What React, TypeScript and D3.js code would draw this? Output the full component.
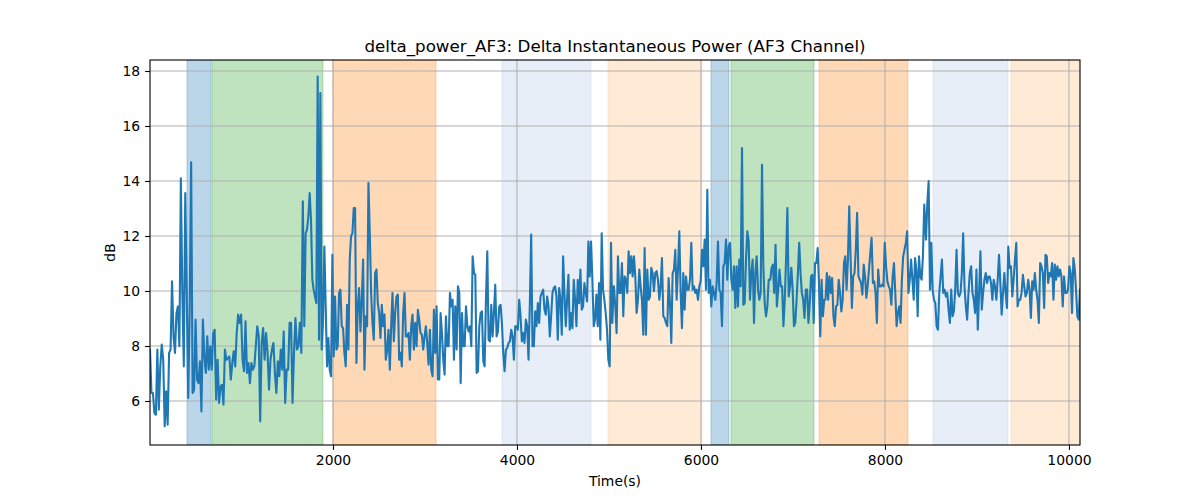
import React, { useRef, useEffect } from "react";
import * as d3 from "d3";

// delta power readings, split into stretches of time (each stretch spread evenly over its time range)
const seg1 = [
  7.87, 6.29, 6.29, 5.56, 5.5, 7.87, 5.68, 7.26, 8.05, 7.5, 5.08, 6.35, 5.14, 7.75, 7.87, 10.35, 8.35, 7.75, 9.2, 9.44,
  7.99, 14.1, 9.93, 7.26, 13.56, 9.93, 6.11, 9.32, 14.68, 6.29, 6.41, 8.96, 6.78, 6.65, 7.44, 5.62, 8.96, 7.62, 7.02, 8.35,
  7.14, 7.99, 7.14, 8.47, 8.59, 6.05, 7.5, 5.93, 6.53, 6.59, 5.87, 7.87, 7.5, 7.56, 7.62, 6.78, 7.38, 7.81, 7.26, 8.47,
  9.14, 8.84, 9.14, 7.5, 7.08, 8.9, 7.02, 7.38, 6.65, 7.38, 7.14, 7.26, 7.99, 8.72, 8.35, 5.26, 8.11, 8.65, 7.5, 8.47,
  7.75, 6.41, 7.5, 7.87, 8.11, 7.02, 6.29, 7.44, 6.9, 7.87, 7.14, 8.53, 5.93, 7.14, 7.14, 8.84, 8.84, 5.93, 7.75, 9.02,
  7.87, 7.99, 8.84, 7.75, 13.26, 8.72,
];
const seg2 = [
  12.1, 12.23, 12.7, 13.56, 12.59, 10.41, 10.05, 9.8, 9.56, 17.8, 8.23, 17.2, 7.87, 8.96, 11.62, 9.44, 7.26, 8.29, 7.14, 6.9,
  11.32, 7.62, 9.8, 7.87, 7.99, 9.93, 10.05, 8.72, 8.65, 7.75, 7.26, 9.5, 7.87, 11.14, 12.0, 12.1, 13.02, 13.02, 7.38, 9.44,
  10.11, 8.53, 9.68, 11.14, 7.14, 9.08, 8.72, 13.93, 12.1, 9.93, 8.84, 8.23, 10.65, 10.78, 9.56, 9.2, 8.29, 9.5, 8.72, 9.14,
  7.5, 7.87, 8.59, 7.14, 8.72, 9.93, 8.17, 9.2, 9.8, 9.87, 7.5, 7.75, 7.26, 9.2, 9.93, 8.35, 8.35, 8.47, 7.5, 8.72,
  9.14, 7.87, 8.84, 7.99, 9.32, 8.96, 8.47, 8.41, 7.87, 8.35, 8.72, 8.11, 7.32, 8.59, 7.14, 6.9, 9.32, 7.75, 9.44, 6.78,
  6.78, 9.2, 8.47, 7.5, 6.96, 9.08, 7.99, 7.99, 9.93, 9.44, 9.68, 7.5, 9.44, 7.87, 10.17, 9.93,
];
const seg3 = [
  6.65, 9.2, 7.99, 7.99, 9.44, 8.72, 8.53, 8.72, 7.99, 11.26, 10.65, 10.59, 7.02, 7.08, 8.72, 9.2, 9.26, 7.44, 7.26, 9.68,
  11.44, 8.23, 8.17, 9.5, 8.35, 9.2, 10.23, 8.35, 8.53, 9.44, 9.5, 8.84, 7.75, 7.08, 7.87, 7.93, 8.11, 8.17, 8.59, 8.35,
  7.5, 8.72, 8.72, 8.59, 9.68, 9.08, 8.17, 8.47, 8.11, 8.96, 8.72, 7.5, 9.56, 12.05, 7.99, 7.99, 9.26, 8.72, 9.56, 8.84,
  9.8, 9.93, 10.05, 9.32, 9.14, 9.8, 9.44, 8.35, 9.08, 9.93, 10.11, 10.17, 9.8, 8.23, 10.11, 9.68, 8.41, 11.26, 9.93, 8.72,
  9.68, 10.59, 8.59, 9.2, 8.65, 10.41, 9.68, 8.72, 10.41, 9.56, 10.78, 9.32, 9.44, 10.29, 9.93, 9.62, 11.8, 10.53, 11.8, 10.41,
  8.72, 8.96, 9.87, 8.72, 10.29, 8.23, 12.1, 10.05, 9.68, 9.2, 8.59, 7.5, 7.26, 11.75, 8.84, 10.17,
];
const seg4 = [
  10.17, 9.44, 8.47, 11.26, 9.93, 9.93, 11.02, 9.08, 10.53, 10.41, 9.93, 11.44, 10.65, 11.26, 10.53, 11.26, 10.53, 9.2, 9.68, 10.78,
  10.17, 9.68, 8.41, 11.56, 8.41, 10.78, 9.68, 9.8, 10.84, 10.65, 9.99, 10.65, 10.72, 10.41, 9.68, 10.17, 11.2, 9.08, 9.02, 8.84,
  8.72, 10.47, 9.56, 8.11, 10.65, 10.78, 11.5, 9.68, 10.78, 12.17, 9.93, 8.65, 10.65, 9.32, 10.53, 10.05, 10.05, 10.41, 11.75, 10.05,
  10.17, 9.93, 10.05, 9.68, 10.17, 10.35, 11.5, 10.9, 11.87, 10.05, 13.68, 9.93, 10.41, 9.44, 10.17, 9.93, 9.68, 10.29, 11.8, 10.05,
  9.93, 8.72, 10.9, 11.02, 11.87, 10.41, 11.62, 11.75, 10.41, 10.05, 10.9, 9.38, 10.9, 9.44, 11.14, 10.17, 15.2, 9.5, 9.56, 11.14,
  12.17, 11.8, 9.68, 10.65, 11.14, 8.84, 10.65, 11.26, 10.05, 9.68, 9.93, 14.59, 10.9, 9.56, 9.08, 9.44, 10.41,
];
const seg5 = [
  10.41, 10.41, 10.84, 10.96, 9.93, 11.68, 9.44, 10.05, 10.78, 10.17, 10.17, 8.72, 9.68, 11.14, 13.02, 9.8, 10.17, 10.84, 10.05, 8.72,
  8.84, 9.68, 10.65, 11.75, 10.65, 9.93, 9.68, 9.02, 10.05, 10.05, 8.84, 9.56, 10.53, 10.59, 8.84, 11.02, 11.02, 11.56, 10.29, 8.35,
  10.41, 9.08, 9.68, 9.68, 10.65, 9.68, 10.53, 9.93, 10.47, 9.08, 8.72, 9.44, 9.5, 10.41, 9.93, 9.26, 9.68, 11.02, 11.26, 10.05,
  11.14, 13.08, 11.26, 9.38, 10.53, 10.65, 11.5, 12.84, 10.53, 10.41, 10.29, 9.87, 10.96, 10.53, 9.75, 10.17, 10.78, 11.38, 11.93, 10.29,
  10.35, 9.93, 8.84, 10.78, 10.17, 10.17, 10.23, 10.17, 11.75, 10.9, 10.35, 10.17, 10.05, 9.5, 10.53, 11.02, 9.93, 8.72, 9.2, 9.44,
  8.84, 10.41, 11.26, 11.5, 11.75, 12.17, 9.93, 10.41, 11.14, 10.41, 9.68, 11.2, 10.78, 9.08, 11.26, 10.53, 10.41, 11.26, 13.14,
];
const seg6 = [
  11.87, 13.2, 14.0, 10.05, 11.75, 10.05, 9.68, 9.56, 8.72, 8.59, 9.93, 10.53, 11.14, 9.93, 10.05, 9.8, 9.93, 9.32, 8.84, 10.05,
  9.08, 9.26, 10.05, 11.5, 9.93, 9.8, 9.93, 10.65, 12.1, 10.17, 9.44, 8.96, 9.93, 10.65, 10.9, 9.93, 9.68, 9.2, 10.78, 8.59,
  9.93, 11.44, 9.32, 9.93, 10.41, 10.65, 10.29, 10.53, 10.53, 10.29, 9.68, 10.41, 10.17, 9.68, 10.41, 11.32, 10.29, 9.14, 9.93, 10.65,
  9.93, 9.38, 11.62, 10.84, 10.9, 9.8, 10.41, 11.14, 11.75, 9.44, 9.68, 9.68, 9.93, 10.59, 10.17, 9.8, 9.93, 10.41, 10.05, 9.02,
  10.35, 10.05, 10.65, 10.05, 9.68, 8.84, 11.02, 10.9, 10.65, 9.38, 11.32, 11.26, 10.29, 10.65, 10.53, 11.02, 9.68, 10.96, 10.41, 10.9,
  10.53, 10.78, 10.53, 9.44, 10.53, 9.93, 9.93, 10.05, 10.9, 10.65, 9.2, 11.2, 10.84, 10.05, 9.08, 8.96, 10.05,
];
const segments = [seg1, seg2, seg3, seg4, seg5, seg6];
const segmentStart = [11, 1703, 3388, 5054, 6739, 8446];
const segmentEnd = [1688, 3373, 5051, 6736, 8427, 10120];

// shaded periods (seconds) and their kind
const spanStart = [413, 685, 2000, 3837, 4989, 6109, 6326, 7283, 8522, 9370];
const spanEnd = [674, 1891, 3120, 4804, 6011, 6304, 7228, 8250, 9337, 10120];
const spanKind = ["blue", "green", "orange", "lightblue", "lightorange", "blue", "green", "orange", "lightblue", "lightorange"];

const xTicks = [2000, 4000, 6000, 8000, 10000];
const yTicks = [6, 8, 10, 12, 14, 16, 18];

const spanColor: Record<string, string> = {
  blue: "#1f77b4",
  green: "#2ca02c",
  orange: "#ff7f0e",
  lightblue: "#aec7e8",
  lightorange: "#ffbb78",
};

const App: React.FC = () => {
  const ref = useRef<SVGSVGElement | null>(null);

  useEffect(() => {
    if (!ref.current) return;
    const svg = d3.select(ref.current);
    svg.selectAll("*").remove();

    const width = 1200;
    const height = 500;
    const margin = { top: 60, right: 120, bottom: 55, left: 150 };
    const font = "DejaVu Sans, sans-serif";

    const points: [number, number][] = [];
    segments.forEach((seg, i) => {
      const step = (segmentEnd[i] - segmentStart[i]) / (seg.length - 1);
      seg.forEach((v, j) => points.push([segmentStart[i] + j * step, v]));
    });

    const x = d3
      .scaleLinear()
      .domain([segmentStart[0], segmentEnd[segmentEnd.length - 1]])
      .range([margin.left, width - margin.right]);
    const y = d3
      .scaleLinear()
      .domain([4.4, 18.4])
      .range([height - margin.bottom, margin.top]);

    const clipId = "plot-clip";
    svg
      .append("clipPath")
      .attr("id", clipId)
      .append("rect")
      .attr("x", margin.left)
      .attr("y", margin.top)
      .attr("width", width - margin.left - margin.right)
      .attr("height", height - margin.top - margin.bottom);

    const plot = svg.append("g").attr("clip-path", `url(#${clipId})`);

    plot
      .selectAll("rect.span")
      .data(spanStart.map((s, i) => ({ s, e: spanEnd[i], k: spanKind[i] })))
      .enter()
      .append("rect")
      .attr("class", "span")
      .attr("x", (d) => x(d.s))
      .attr("y", margin.top)
      .attr("width", (d) => x(d.e) - x(d.s))
      .attr("height", height - margin.top - margin.bottom)
      .attr("fill", (d) => spanColor[d.k])
      .attr("fill-opacity", 0.3)
      .attr("stroke", (d) => spanColor[d.k])
      .attr("stroke-opacity", 0.3)
      .attr("stroke-width", 1);

    // grid
    plot
      .selectAll("line.gx")
      .data(xTicks)
      .enter()
      .append("line")
      .attr("x1", (d) => x(d))
      .attr("x2", (d) => x(d))
      .attr("y1", margin.top)
      .attr("y2", height - margin.bottom)
      .attr("stroke", "#b0b0b0")
      .attr("stroke-width", 1.1);
    plot
      .selectAll("line.gy")
      .data(yTicks)
      .enter()
      .append("line")
      .attr("x1", margin.left)
      .attr("x2", width - margin.right)
      .attr("y1", (d) => y(d))
      .attr("y2", (d) => y(d))
      .attr("stroke", "#b0b0b0")
      .attr("stroke-width", 1.1);

    const line = d3
      .line<[number, number]>()
      .x((d) => x(d[0]))
      .y((d) => y(d[1]));

    plot
      .append("path")
      .datum(points)
      .attr("d", line)
      .attr("fill", "none")
      .attr("stroke", "#1f77b4")
      .attr("stroke-width", 2.1)
      .attr("stroke-linejoin", "round")
      .attr("stroke-linecap", "square");

    // axes
    const xAxis = svg
      .append("g")
      .attr("transform", `translate(0,${height - margin.bottom})`)
      .call(d3.axisBottom(x).tickValues(xTicks).tickFormat(d3.format("d")).tickSize(4.9).tickPadding(4.9));
    const yAxis = svg
      .append("g")
      .attr("transform", `translate(${margin.left},0)`)
      .call(d3.axisLeft(y).tickValues(yTicks).tickFormat(d3.format("d")).tickSize(4.9).tickPadding(4.9));
    [xAxis, yAxis].forEach((a) => {
      a.select(".domain").remove();
      a.selectAll("line").attr("stroke", "#000").attr("stroke-width", 1.1);
      a.selectAll("text").attr("font-family", font).attr("font-size", 13.9).attr("fill", "#000");
    });

    svg
      .append("rect")
      .attr("x", margin.left)
      .attr("y", margin.top)
      .attr("width", width - margin.left - margin.right)
      .attr("height", height - margin.top - margin.bottom)
      .attr("fill", "none")
      .attr("stroke", "#000")
      .attr("stroke-width", 1.1);

    svg
      .append("text")
      .attr("x", (margin.left + width - margin.right) / 2)
      .attr("y", margin.top - 8.3)
      .attr("text-anchor", "middle")
      .attr("font-family", font)
      .attr("font-size", 16.7)
      .text("delta_power_AF3: Delta Instantaneous Power (AF3 Channel)");

    svg
      .append("text")
      .attr("x", (margin.left + width - margin.right) / 2)
      .attr("y", 486)
      .attr("text-anchor", "middle")
      .attr("font-family", font)
      .attr("font-size", 13.9)
      .text("Time(s)");

    svg
      .append("text")
      .attr("transform", `translate(115,${(margin.top + height - margin.bottom) / 2}) rotate(-90)`)
      .attr("text-anchor", "middle")
      .attr("font-family", font)
      .attr("font-size", 13.9)
      .text("dB");
  }, []);

  return (
    <div style={{ position: "absolute", left: 0, top: 0 }}>
      <svg ref={ref} width={1200} height={500} style={{ display: "block", background: "#fff" }} />
    </div>
  );
};

export default App;
